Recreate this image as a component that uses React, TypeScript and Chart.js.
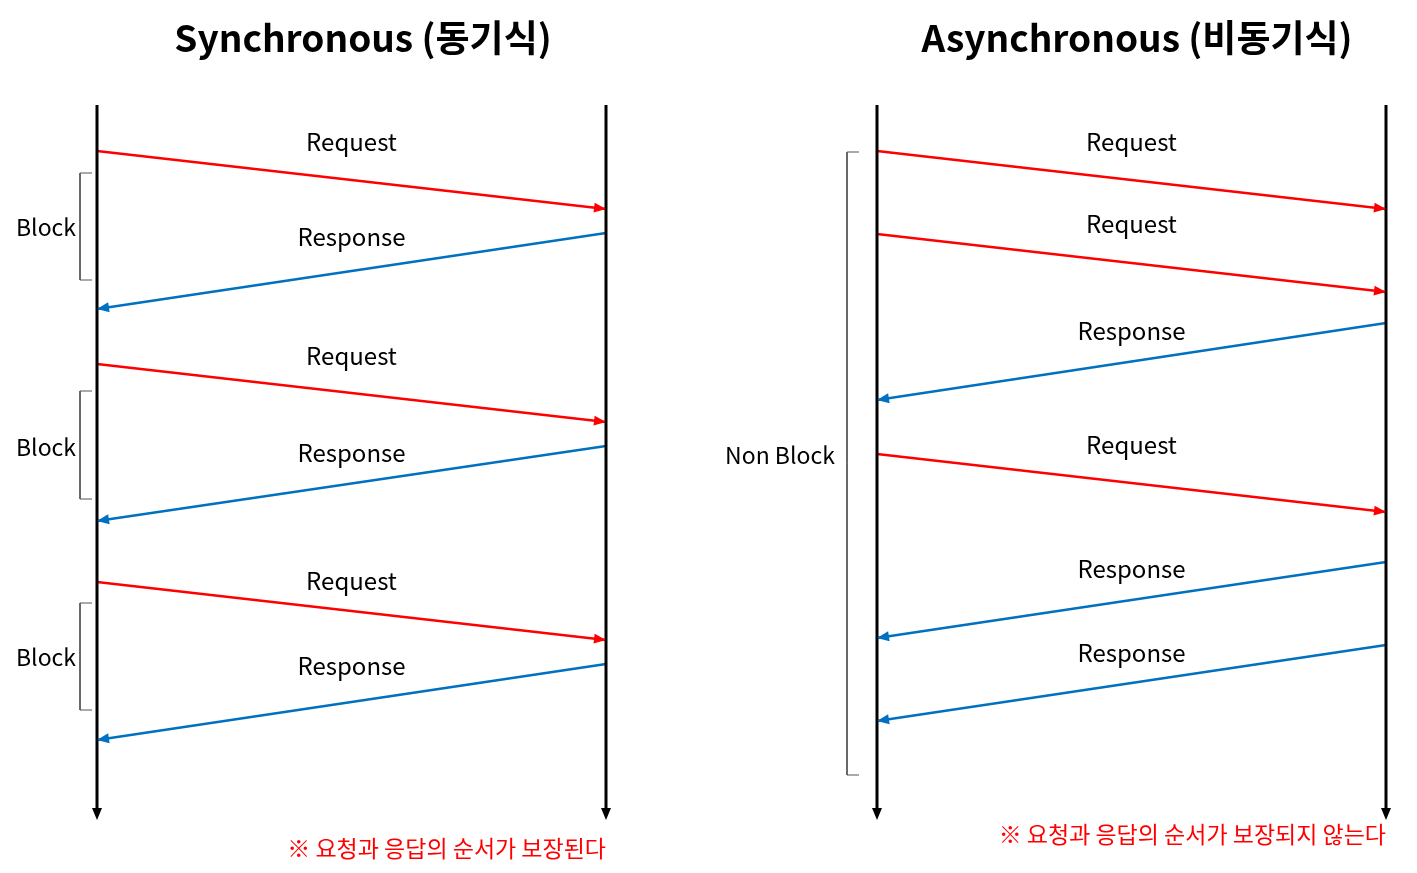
import React, { useEffect, useRef } from "react";
import { Chart, registerables } from "chart.js";
Chart.register(...registerables);

// Timeline x positions and extents (diagram units)
const timelinesX = [97, 606, 877, 1386];
const timelineTop = 105;
const timelineBottom = 820;

// Messages: [fromX, fromY, toX, toY, kind, labelY]
const syncMessages: [number, number, number, number, string, number][] = [
  [97, 151, 606, 209, "Request", 142],
  [606, 233, 97, 309, "Response", 237],
  [97, 364, 606, 422, "Request", 356],
  [606, 446, 97, 521, "Response", 453],
  [97, 582, 606, 640, "Request", 581],
  [606, 664, 97, 740, "Response", 666],
];
const asyncMessages: [number, number, number, number, string, number][] = [
  [877, 151, 1386, 209, "Request", 142],
  [877, 234, 1386, 292, "Request", 224],
  [1386, 323, 877, 400, "Response", 331],
  [877, 454, 1386, 512, "Request", 445],
  [1386, 562, 877, 638, "Response", 569],
  [1386, 645, 877, 721, "Response", 653],
];
// Brackets: [x, yTop, yBottom, label, labelX, labelY]
const brackets: [number, number, number, string, number, number][] = [
  [80, 173, 280, "Block", 46, 227],
  [80, 391, 499, "Block", 46, 447],
  [80, 603, 710, "Block", 46, 657],
  [847, 152, 775, "Non Block", 780, 455],
];
const titles: [string, number, number][] = [
  ["Synchronous (동기식)", 363, 38],
  ["Asynchronous (비동기식)", 1137, 38],
];
const notes: [string, number, number][] = [
  ["※ 요청과 응답의 순서가 보장된다", 606, 848],
  ["※ 요청과 응답의 순서가 보장되지 않는다", 1386, 834],
];

const RED = "#ff0000";
const BLUE = "#0070c0";
const FONT = '"Noto Sans CJK KR", "Noto Sans", sans-serif';

export default function App() {
  const ref = useRef<HTMLCanvasElement>(null);
  useEffect(() => {
    document.body.style.margin = "0";
    const datasets: any[] = [];
    timelinesX.forEach((x) =>
      datasets.push({ data: [{ x, y: timelineTop }, { x, y: timelineBottom - 8 }], borderColor: "#000", borderWidth: 3, _arrow: "#000", _end: { x, y: timelineBottom } })
    );
    [...syncMessages, ...asyncMessages].forEach(([x1, y1, x2, y2, k]) => {
      const c = k === "Request" ? RED : BLUE;
      datasets.push({ data: [{ x: x1, y: y1 }, { x: x2, y: y2 }], borderColor: c, borderWidth: 2.5, _arrow: c });
    });
    brackets.forEach(([x, t, b]) =>
      datasets.push({ data: [{ x: x + 12, y: t }, { x, y: t }, { x, y: b }, { x: x + 12, y: b }], borderColor: "#555", borderWidth: 1 })
    );
    const overlay = {
      id: "overlay",
      afterDatasetsDraw(chart: any) {
        const ctx = chart.ctx;
        const xs = chart.scales.x, ys = chart.scales.y;
        const px = (v: number) => xs.getPixelForValue(v);
        const py = (v: number) => ys.getPixelForValue(v);
        chart.data.datasets.forEach((ds: any) => {
          if (!ds._arrow) return;
          const d = ds.data;
          const a = d[d.length - 2], b = ds._end || d[d.length - 1];
          const ang = Math.atan2(py(b.y) - py(a.y), px(b.x) - px(a.x));
          const L = 12, W = 5;
          ctx.save();
          ctx.translate(px(b.x), py(b.y));
          ctx.rotate(ang);
          ctx.fillStyle = ds._arrow;
          ctx.beginPath();
          ctx.moveTo(0, 0);
          ctx.lineTo(-L, -W);
          ctx.lineTo(-L, W);
          ctx.closePath();
          ctx.fill();
          ctx.restore();
        });
        ctx.save();
        ctx.textBaseline = "middle";
        ctx.textAlign = "center";
        ctx.fillStyle = "#000";
        ctx.font = `24px ${FONT}`;
        [...syncMessages, ...asyncMessages].forEach(([x1, , x2, , k, ly]) =>
          ctx.fillText(k, px((x1 + x2) / 2), py(ly))
        );
        ctx.font = `23px ${FONT}`;
        brackets.forEach(([, , , l, lx, ly]) => ctx.fillText(l, px(lx), py(ly)));
        ctx.font = `bold 37px ${FONT}`;
        titles.forEach(([t, x, y]) => ctx.fillText(t, px(x), py(y)));
        ctx.font = `23px ${FONT}`;
        ctx.fillStyle = RED;
        ctx.textAlign = "right";
        notes.forEach(([t, x, y]) => ctx.fillText(t, px(x), py(y)));
        ctx.restore();
      },
    };
    const chart = new Chart(ref.current!, {
      type: "line",
      data: { datasets },
      options: {
        animation: false,
        responsive: false,
        layout: { padding: 0 },
        elements: { point: { radius: 0 }, line: { tension: 0 } },
        plugins: { legend: { display: false }, tooltip: { enabled: false } },
        scales: {
          x: { type: "linear", display: false, min: 0, max: 1417 },
          y: { type: "linear", display: false, min: 0, max: 873, reverse: true },
        },
      },
      plugins: [overlay],
    });
    return () => chart.destroy();
  }, []);
  return (
    <div style={{ width: 1417, height: 873, background: "#fff" }}>
      <canvas ref={ref} width={1417} height={873} style={{ display: "block" }} />
    </div>
  );
}
